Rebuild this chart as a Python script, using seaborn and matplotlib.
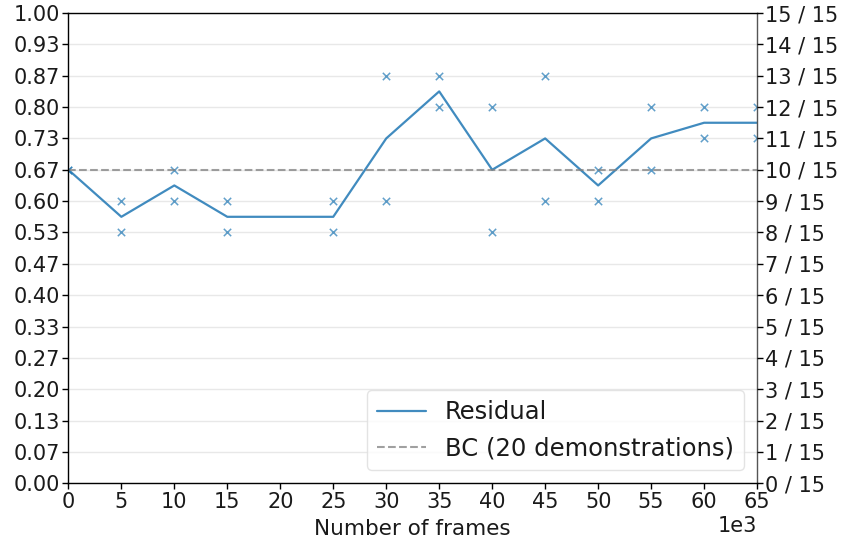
import matplotlib
matplotlib.use("Agg")
import matplotlib.pyplot as plt
import seaborn as sns
import numpy as np
import pandas as pd

frames_k = [0, 5, 10, 15, 25, 30, 35, 40, 45, 50, 55, 60, 65]
seed_a = [10, 9, 10, 9, 9, 13, 13, 12, 13, 10, 12, 12, 12]
seed_b = [10, 8, 9, 8, 8, 9, 12, 8, 9, 9, 10, 11, 11]
total = 15
bc_success = 10
x_ticks_k = list(range(0, 70, 5))
right_labels = [f"{k} / {total}" for k in range(total + 1)]

sns.set_theme(style="white")
plt.rcParams['font.family'] = ['DejaVu Sans']
plt.rcParams['text.color'] = '#1a1a1a'
plt.rcParams['xtick.color'] = '#1a1a1a'
plt.rcParams['ytick.color'] = '#1a1a1a'
plt.rcParams['axes.labelcolor'] = '#1a1a1a'

frames = np.array(frames_k) * 1000
df = pd.DataFrame({
    "frames": np.concatenate([frames, frames]),
    "success": np.concatenate([np.array(seed_a), np.array(seed_b)]) / total,
    "seed": ["a"] * len(frames) + ["b"] * len(frames),
})
mean_df = df.groupby("frames", as_index=False)["success"].mean()

fig, ax = plt.subplots(figsize=(8.44, 5.43), dpi=100)
fig.subplots_adjust(left=0.081, right=0.897, top=0.976, bottom=0.11)

blue = "#1f77b4"
sns.lineplot(data=mean_df, x="frames", y="success", ax=ax, color=blue, alpha=0.85,
             linewidth=1.6, label="Residual")
sns.scatterplot(data=df, x="frames", y="success", ax=ax, color=blue, alpha=0.7,
                marker="x", s=28, linewidth=1.1, legend=False)
ax.axhline(bc_success / total, color="gray", alpha=0.75, linestyle="--", linewidth=1.5,
           label="BC (20 demonstrations)")

yt = np.arange(total + 1) / total
ax.set_ylim(0, 1)
ax.set_xlim(0, 65000)
ax.set_yticks(yt)
ax.set_yticklabels([f"{v:.2f}" for v in yt])
ax.set_xticks(np.array(x_ticks_k) * 1000)
ax.ticklabel_format(style="sci", axis="x", scilimits=(3, 3))
ax.xaxis.get_offset_text().set_fontsize(15)
ax.set_xlabel("Number of frames", fontsize=15.5, labelpad=5)
ax.set_ylabel("")
ax.tick_params(axis="both", labelsize=15, length=4, width=1, color="black", left=True, bottom=True, pad=2)
ax.yaxis.grid(True, color="#e8e8e8", linewidth=1)
ax.xaxis.grid(False)
for s in ax.spines.values():
    s.set_color("black")
    s.set_linewidth(1)

ax2 = ax.twinx()
ax2.set_ylim(0, 1)
ax2.set_yticks(yt)
ax2.set_yticklabels(right_labels)
ax2.tick_params(axis="y", labelsize=15, length=4, width=1, color="black", right=True, pad=2)
ax2.grid(False)
for s in ax2.spines.values():
    s.set_visible(False)
ax.spines["right"].set_color("#555555")

leg = ax.legend(loc="lower right", fontsize=17.5, frameon=True, handlelength=2,
                borderaxespad=0.55)
leg.get_frame().set_edgecolor("#dddddd")

fig.savefig("out.png", dpi=100)
